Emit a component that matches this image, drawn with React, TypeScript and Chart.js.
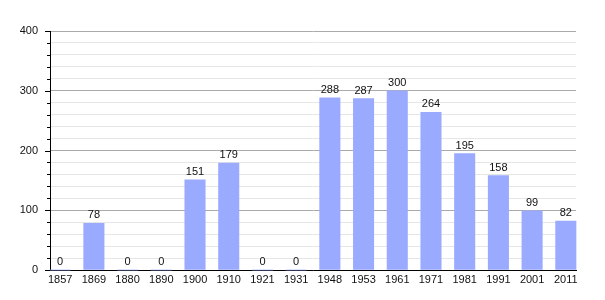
import React, { useEffect, useRef } from "react";
import { Chart, registerables } from "chart.js";

Chart.register(...registerables);

const years = ["1857", "1869", "1880", "1890", "1900", "1910", "1921", "1931", "1948", "1953", "1961", "1971", "1981", "1991", "2001", "2011"];
const population = [0, 78, 0, 0, 151, 179, 0, 0, 288, 287, 300, 264, 195, 158, 99, 82];
const yTickValues = [0, 100, 200, 300, 400];

const BAR_COLOR = "rgb(153,170,255)";
const FONT = "'Liberation Sans', Arial, sans-serif";

const tickMarksPlugin = {
  id: "tickMarks",
  afterDraw(chart: any) {
    const ctx = chart.ctx;
    const y = chart.scales.y;
    const left = chart.chartArea.left;
    ctx.save();
    ctx.strokeStyle = "#000";
    ctx.lineWidth = 1;
    for (let v = 0; v <= 400; v += 20) {
      const py = Math.round(y.getPixelForValue(v)) + 0.5;
      const len = v % 100 === 0 ? 5 : 3;
      ctx.beginPath();
      ctx.moveTo(left - len, py);
      ctx.lineTo(left, py);
      ctx.stroke();
    }
    ctx.restore();
  },
};

const valueLabelsPlugin = {
  id: "valueLabels",
  afterDatasetsDraw(chart: any) {
    const ctx = chart.ctx;
    const meta = chart.getDatasetMeta(0);
    ctx.save();
    ctx.font = `11px ${FONT}`;
    ctx.fillStyle = "#111";
    ctx.textAlign = "center";
    ctx.textBaseline = "middle";
    meta.data.forEach((el: any, i: number) => {
      ctx.fillText(String(population[i]), el.x, el.y - 8);
    });
    ctx.restore();
  },
};

export default function App() {
  const ref = useRef<HTMLCanvasElement>(null);
  useEffect(() => {
    document.body.style.margin = "0";
    const data = population.map((v, i) => ({ x: i, y: v }));
    const chart = new Chart(ref.current!, {
      type: "bar",
      data: {
        datasets: [
          {
            data,
            backgroundColor: BAR_COLOR,
            borderWidth: 0,
            barThickness: 20.4,
            clip: false as any,
          },
        ],
      },
      options: {
        responsive: false,
        animation: false,
        events: [],
        layout: { padding: { top: 31, right: 29, left: 0, bottom: 0 } },
        plugins: { legend: { display: false }, tooltip: { enabled: false } },
        scales: {
          x: {
            type: "linear",
            offset: false,
            min: -0.302,
            max: 15.302,
            afterFit(scale: any) {
              scale.height = 30;
            },
            afterBuildTicks(scale: any) {
              scale.ticks = years.map((_, i) => ({ value: i }));
            },
            ticks: {
              autoSkip: false,
              maxRotation: 0,
              padding: 3,
              color: "#111",
              font: { family: FONT, size: 11 },
              callback: (v: any) => years[Math.round(Number(v))] ?? "",
            },
            grid: { display: false, drawTicks: false },
            border: { display: true, color: "#000", width: 1 },
          },
          y: {
            min: 0,
            max: 400,
            afterFit(scale: any) {
              scale.width = 50;
            },
            afterBuildTicks(scale: any) {
              const t = [];
              for (let v = 0; v <= 400; v += 20) t.push({ value: v });
              scale.ticks = t;
            },
            ticks: {
              autoSkip: false,
              padding: 12,
              color: "#111",
              font: { family: FONT, size: 11 },
              callback: (v: any) => (yTickValues.includes(Number(v)) ? String(v) : ""),
            },
            grid: {
              drawTicks: false,
              color: (c: any) => (c.tick && c.tick.value % 100 === 0 ? "#aaaaaa" : "#e6e6e6"),
            },
            border: { display: true, color: "#000", width: 1 },
          },
        },
      },
      plugins: [tickMarksPlugin, valueLabelsPlugin],
    });
    return () => chart.destroy();
  }, []);
  return <canvas ref={ref} width={605} height={300} style={{ display: "block" }} />;
}
